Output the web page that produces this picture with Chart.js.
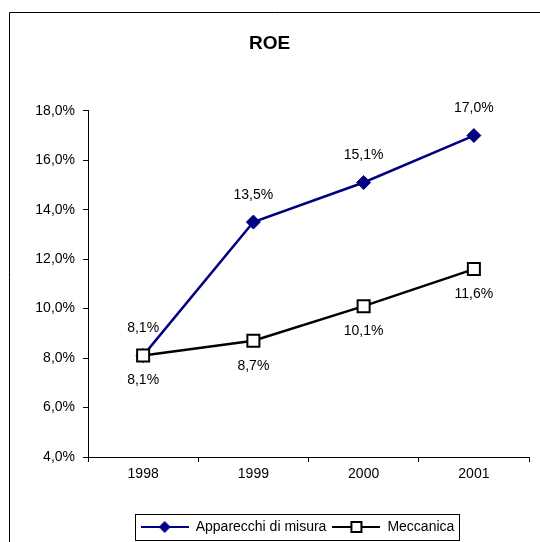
<!DOCTYPE html>
<html>
<head>
<meta charset="utf-8">
<script src="https://cdn.jsdelivr.net/npm/chart.js@4"></script>
<style>
  body { margin: 0; background: #fff; }
  canvas { display: block; }
</style>
</head>
<body>
<canvas id="roeChart" width="540" height="542"></canvas>
<script>
const years = ['1998', '1999', '2000', '2001'];
const apparecchi = [8.1, 13.5, 15.1, 17.0];
const meccanica = [8.1, 8.7, 10.1, 11.6];
const yMin = 4;
const yMax = 18;
const yStep = 2;

const FONT = "'Liberation Sans', Arial, sans-serif";
const NAVY = '#000080';

function pct(v) {
    return v.toFixed(1).replace('.', ',') + '%';
}

// little line+marker icons for the legend
function makeIcon(kind) {
    const c = document.createElement('canvas');
    c.width = 48;
    c.height = 16;
    const g = c.getContext('2d');
    g.strokeStyle = kind === 'diamond' ? NAVY : '#000';
    g.lineWidth = 2;
    g.beginPath();
    g.moveTo(0, 8);
    g.lineTo(48, 8);
    g.stroke();
    if (kind === 'diamond') {
        g.fillStyle = NAVY;
        g.beginPath();
        g.moveTo(24, 2);
        g.lineTo(30, 8);
        g.lineTo(24, 14);
        g.lineTo(18, 8);
        g.closePath();
        g.fill();
    } else {
        g.fillStyle = '#fff';
        g.fillRect(19, 3, 10, 10);
        g.lineWidth = 2;
        g.strokeRect(19, 3, 10, 10);
    }
    return c;
}
const icons = [makeIcon('diamond'), makeIcon('square')];

const framePlugin = {
    id: 'frame',
    afterLayout(chart) {
        // nudge legend and title to where they sit in the original
        chart.legend.left += 33;
        chart.legend.right += 33;
        chart.legend.top += 2;
        chart.legend.bottom += 2;
        chart.titleBlock.left += 5;
        chart.titleBlock.right += 5;
    },
    beforeDraw(chart) {
        const ctx = chart.ctx;
        ctx.save();
        ctx.strokeStyle = '#000';
        ctx.lineWidth = 1;
        ctx.beginPath();
        ctx.moveTo(9.5, 542);
        ctx.lineTo(9.5, 12.5);
        ctx.lineTo(540, 12.5);
        ctx.stroke();
        ctx.restore();
    },
    afterDraw(chart) {
        const boxes = chart.legend.legendHitBoxes;
        if (!boxes || !boxes.length) return;
        let l = Infinity, r = -Infinity;
        boxes.forEach(b => {
            l = Math.min(l, b.left);
            r = Math.max(r, b.left + b.width);
        });
        const cy = boxes[0].top + boxes[0].height / 2;
        const ctx = chart.ctx;
        ctx.save();
        ctx.strokeStyle = '#000';
        ctx.lineWidth = 1;
        ctx.strokeRect(Math.round(l - 6) + 0.5, Math.round(cy - 13) + 0.5, Math.round(r - l + 10), 26);
        ctx.restore();
    }
};

const labelPlugin = {
    id: 'valueLabels',
    afterDatasetsDraw(chart) {
        const ctx = chart.ctx;
        ctx.save();
        ctx.font = '14px ' + FONT;
        ctx.fillStyle = '#000';
        ctx.textAlign = 'center';
        ctx.textBaseline = 'middle';
        chart.data.datasets.forEach((ds, i) => {
            const meta = chart.getDatasetMeta(i);
            const dy = i === 0 ? -27 : 25;
            meta.data.forEach((pt, j) => {
                ctx.fillText(pct(ds.data[j]), pt.x, pt.y + dy);
            });
        });
        ctx.restore();
    }
};

Chart.defaults.color = '#000';
Chart.defaults.font.family = FONT;
Chart.defaults.font.size = 14;

const ctx = document.getElementById('roeChart').getContext('2d');
const roeChart = new Chart(ctx, {
    type: 'line',
    data: {
        labels: years,
        datasets: [
            {
                label: 'Apparecchi di misura',
                data: apparecchi,
                borderColor: NAVY,
                backgroundColor: NAVY,
                borderWidth: 2.5,
                pointStyle: 'rectRot',
                pointRadius: 7,
                pointBorderWidth: 1,
                pointBackgroundColor: NAVY,
                pointBorderColor: NAVY,
                tension: 0,
                order: 1
            },
            {
                label: 'Meccanica',
                data: meccanica,
                borderColor: '#000',
                backgroundColor: '#fff',
                borderWidth: 2.5,
                pointStyle: 'rect',
                pointRadius: 8.5,
                pointBorderWidth: 2,
                pointBackgroundColor: '#fff',
                pointBorderColor: '#000',
                tension: 0,
                order: 0
            }
        ]
    },
    options: {
        responsive: false,
        animation: false,
        layout: {
            padding: { left: 0, right: 11, top: 0, bottom: 0 }
        },
        plugins: {
            title: {
                display: true,
                text: 'ROE',
                color: '#000',
                font: { size: 19, weight: 'bold', family: FONT },
                padding: { top: 32, bottom: 56 }
            },
            legend: {
                position: 'bottom',
                labels: {
                    usePointStyle: true,
                    pointStyleWidth: 48,
                    padding: 6,
                    color: '#000',
                    font: { size: 14, family: FONT },
                    sort: (a, b) => a.datasetIndex - b.datasetIndex,
                    generateLabels(chart) {
                        const items = Chart.defaults.plugins.legend.labels.generateLabels(chart);
                        items.forEach(it => { it.pointStyle = icons[it.datasetIndex]; });
                        return items;
                    }
                }
            },
            tooltip: { enabled: false }
        },
        scales: {
            x: {
                offset: true,
                grid: {
                    offset: true,
                    drawOnChartArea: false,
                    color: '#000',
                    tickLength: 5
                },
                border: { color: '#000', width: 1 },
                ticks: { padding: 4, color: '#000' },
                afterFit(scale) { scale.height = 55; }
            },
            y: {
                min: yMin,
                max: yMax,
                grid: {
                    drawOnChartArea: false,
                    color: '#000',
                    tickLength: 5
                },
                border: { color: '#000', width: 1 },
                ticks: {
                    stepSize: yStep,
                    padding: 8,
                    color: '#000',
                    callback: v => pct(v)
                },
                afterFit(scale) { scale.width = 88; }
            }
        }
    },
    plugins: [framePlugin, labelPlugin]
});
</script>
</body>
</html>
